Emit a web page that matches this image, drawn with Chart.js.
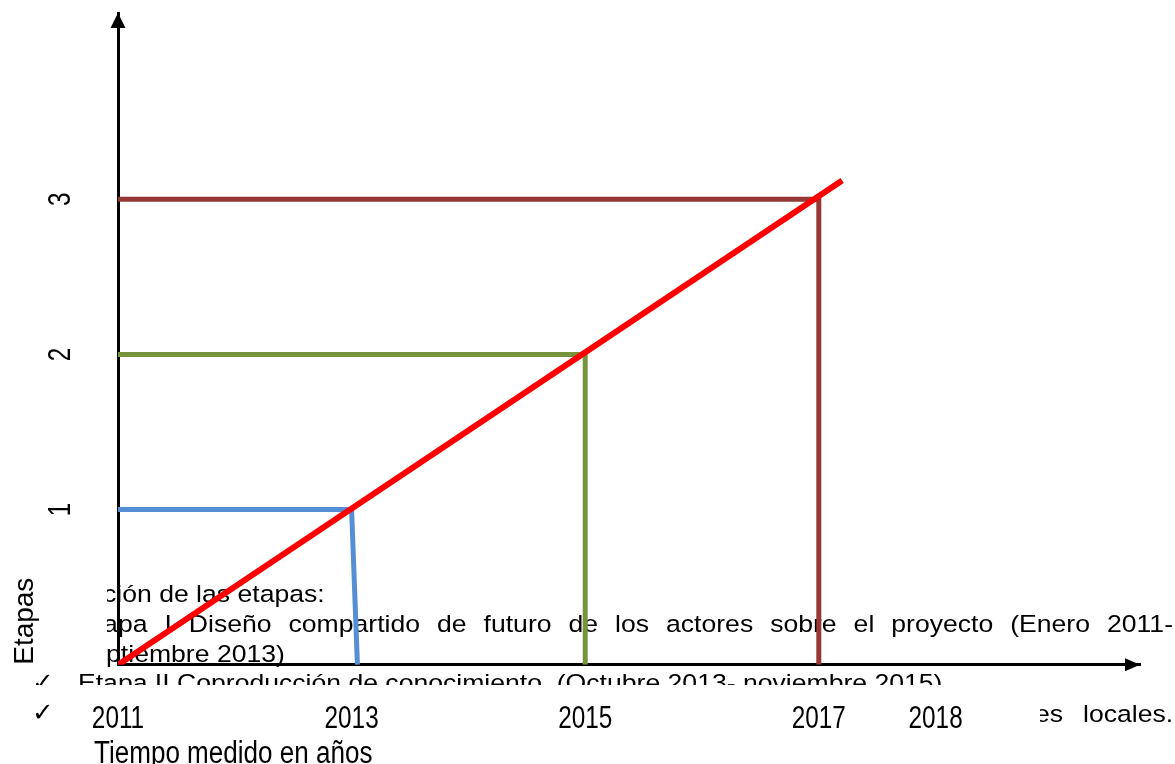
<!DOCTYPE html>
<html>
<head>
<meta charset="utf-8">
<script src="https://cdn.jsdelivr.net/npm/chart.js@4.4.1/dist/chart.umd.min.js"></script>
<style>
  html, body { margin: 0; padding: 0; background: #fff; }
  canvas { display: block; }
</style>
</head>
<body>
<canvas id="chart" width="1175" height="764"></canvas>
<script>
// tick labels
const yearTicks = [2011, 2013, 2015, 2017, 2018];
const stageTicks = [1, 2, 3];

// stages: each one a step from the y axis to its end year, then down to the x axis
const stageStart = 2011;
const stageLevels = [1, 2, 3];
const stageEnds = [2013, 2015, 2017];
const stageEndsAtAxis = [2013.05, 2015, 2017];
const stageColors = ['#558ED5', '#77933C', '#953735'];

// red trend line
const trendYears = [2011, 2017.2];
const trendLevels = [0, 3.12];

// page text that shows through behind the chart
const headingText = 'ción de las etapas:';
const stageOneWords = ['Etapa', 'I', 'Diseño', 'compartido', 'de', 'futuro', 'de', 'los', 'actores', 'sobre', 'el', 'proyecto', '(Enero', '2011-'];
const stageOneEnd = 'septiembre 2013)';
const stageTwoText = 'Etapa II Coproducción de conocimiento  (Octubre 2013- noviembre 2015)';
const lastLineWords = ['es', 'locales.'];

// no narrow face is installed, so text set in these families is squeezed sideways
const TICK_FONT = "'Liberation Sans Narrow', 'Liberation Sans', sans-serif";
const TITLE_FONT = "'Arial Narrow', 'Liberation Sans', sans-serif";
const SQUEEZE = [['Liberation Sans Narrow', 0.76], ['Arial Narrow', 0.84]];

const DOC_FONT = "24.5px 'Liberation Sans', Arial, sans-serif";
const CHECK_FONT = "26px 'DejaVu Sans', sans-serif";
const SX = 1.085;

const canvas = document.getElementById('chart');
const c2d = canvas.getContext('2d');
const plainFill = c2d.fillText;
c2d.fillText = function (text, x, y, maxWidth) {
  const hit = SQUEEZE.find(([name]) => this.font.includes(name));
  if (!hit) {
    return maxWidth === undefined ? plainFill.call(this, text, x, y) : plainFill.call(this, text, x, y, maxWidth);
  }
  this.save();
  this.translate(x, y);
  this.scale(hit[1], 1);
  plainFill.call(this, text, 0, 0);
  this.restore();
};

function drawScaled(ctx, text, x, y) {
  ctx.save();
  ctx.translate(x, y);
  ctx.scale(SX, 1);
  ctx.fillText(text, 0, 0);
  ctx.restore();
}

function justify(ctx, words, x0, x1, y) {
  const widths = words.map(w => ctx.measureText(w).width * SX);
  const total = widths.reduce((a, b) => a + b, 0);
  const gap = (x1 - x0 - total) / (words.length - 1);
  let x = x0;
  words.forEach((w, i) => {
    drawScaled(ctx, w, x, y);
    x += widths[i] + gap;
  });
}

const pageText = {
  id: 'pageText',
  beforeDraw(chart) {
    const ctx = chart.ctx;
    ctx.save();
    ctx.fillStyle = '#fff';
    ctx.fillRect(0, 0, chart.width, chart.height);
    ctx.fillStyle = '#000';
    ctx.textAlign = 'left';
    ctx.textBaseline = 'alphabetic';
    ctx.font = DOC_FONT;

    // first three lines, cut on the left by the chart frame
    ctx.save();
    ctx.beginPath();
    ctx.rect(107, 560, chart.width - 107, 110);
    ctx.clip();
    drawScaled(ctx, headingText, 103, 602);
    justify(ctx, stageOneWords, 78, 1173, 632);
    drawScaled(ctx, stageOneEnd, 78, 662);
    ctx.restore();

    // second stage line, cut at the bottom
    ctx.save();
    ctx.beginPath();
    ctx.rect(0, 666, chart.width, 19);
    ctx.clip();
    drawScaled(ctx, stageTwoText, 78, 691);
    ctx.font = CHECK_FONT;
    ctx.fillText('\u2713', 32, 691);
    ctx.restore();

    // last line, only its ends show
    ctx.font = CHECK_FONT;
    ctx.fillText('\u2713', 32, 721);
    ctx.font = DOC_FONT;
    ctx.save();
    ctx.beginPath();
    ctx.rect(1040, 695, chart.width - 1040, 40);
    ctx.clip();
    drawScaled(ctx, lastLineWords[0], 1035, 722);
    drawScaled(ctx, lastLineWords[1], 1083, 722);
    ctx.restore();

    ctx.restore();
  }
};

const arrowHeads = {
  id: 'arrowHeads',
  afterDraw(chart) {
    const { ctx, chartArea: { left, top, right, bottom } } = chart;
    ctx.save();
    ctx.fillStyle = '#000';
    ctx.beginPath();
    ctx.moveTo(left, top);
    ctx.lineTo(left - 7.5, top + 15);
    ctx.lineTo(left + 7.5, top + 15);
    ctx.closePath();
    ctx.fill();
    ctx.beginPath();
    ctx.moveTo(right, bottom);
    ctx.lineTo(right - 15, bottom - 6.5);
    ctx.lineTo(right - 15, bottom + 6.5);
    ctx.closePath();
    ctx.fill();
    ctx.restore();
  }
};

const datasets = [{
  label: 'Tendencia',
  data: trendYears.map((x, i) => ({ x, y: trendLevels[i] })),
  borderColor: '#FF0000',
  borderWidth: 6
}];
stageLevels.forEach((lvl, i) => {
  datasets.push({
    label: 'Etapa ' + lvl,
    data: [
      { x: stageStart, y: lvl },
      { x: stageEnds[i], y: lvl },
      { x: stageEndsAtAxis[i], y: 0 }
    ],
    borderColor: stageColors[i],
    borderWidth: 5
  });
});
datasets.forEach(d => {
  d.pointRadius = 0;
  d.fill = false;
  d.tension = 0;
  d.borderJoinStyle = 'miter';
});

new Chart(canvas, {
  type: 'line',
  data: { datasets },
  plugins: [pageText, arrowHeads],
  options: {
    responsive: false,
    animation: false,
    devicePixelRatio: 1,
    layout: { padding: { left: 94, top: 13, right: 35, bottom: 0 } },
    plugins: {
      legend: { display: false },
      tooltip: { enabled: false },
      title: {
        display: true,
        text: 'Tiempo medido en años',
        position: 'bottom',
        align: 'start',
        color: '#000',
        font: { family: TITLE_FONT, size: 31, weight: 'normal' },
        padding: { top: 0, bottom: -9 }
      }
    },
    scales: {
      x: {
        type: 'linear',
        min: 2011,
        max: 2019.75,
        grid: { display: false, drawTicks: false },
        border: { display: true, color: '#000', width: 3 },
        afterBuildTicks: s => { s.ticks = yearTicks.map(v => ({ value: v })); },
        afterFit: s => { s.height = 71; },
        ticks: {
          autoSkip: false,
          minRotation: 0,
          maxRotation: 0,
          padding: 35,
          color: '#000',
          font: { family: TICK_FONT, size: 32 },
          callback: v => String(v)
        }
      },
      y: {
        min: 0,
        max: 4.2,
        grid: { display: false, drawTicks: false },
        border: { display: true, color: '#000', width: 3 },
        afterBuildTicks: s => { s.ticks = stageTicks.map(v => ({ value: v })); },
        afterFit: s => {
          s.width = 24;
          s.paddingTop = 0;
          s.paddingBottom = 0;
        },
        ticks: {
          autoSkip: false,
          mirror: true,
          minRotation: 90,
          maxRotation: 90,
          crossAlign: 'center',
          padding: -66,
          color: '#000',
          font: { family: TICK_FONT, size: 32 },
          callback: v => String(v)
        },
        title: {
          display: true,
          text: 'Etapas',
          align: 'start',
          color: '#000',
          font: { family: "'Liberation Sans', sans-serif", size: 28 },
          padding: { top: -86, bottom: 0 }
        }
      }
    }
  }
});
</script>
</body>
</html>
